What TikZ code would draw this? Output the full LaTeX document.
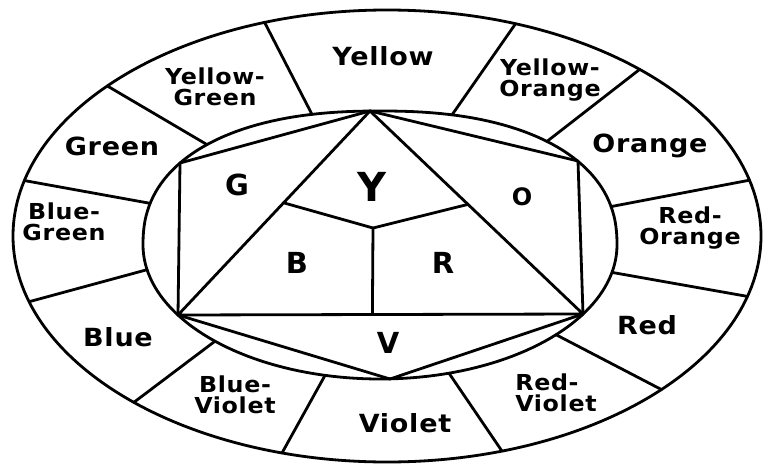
\documentclass[tikz,border=0pt]{standalone}
\usepackage{fontspec}
\newfontfamily\handfont[FakeStretch=1.08,LetterSpace=3]{DejaVu Sans}
\newfontfamily\letterfont{DejaVu Sans}
\usetikzlibrary{calc}
\begin{document}
\begin{tikzpicture}[x=1pt,y=-1pt,
  lin/.style={line width=2.8pt, line join=round, line cap=round},
  lab/.style={font=\handfont\bfseries\fontsize{25}{25}\selectfont, inner sep=0pt, anchor=base},
  labtwo/.style={font=\handfont\bfseries\fontsize{22}{21}\selectfont, align=center, inner sep=0pt},
  big/.style={font=\letterfont\bfseries\fontsize{29}{29}\selectfont, inner sep=0pt}]
\fill[white] (0,0) rectangle (768,463);
\useasboundingbox (0,0) rectangle (768,463);

% inner boundary points (on the inner oval)
\coordinate (top) at (370,111);
\coordinate (i1) at (312,114.4);
\coordinate (i2) at (207,144.6);
\coordinate (hl) at (180,163);
\coordinate (i3) at (150,203.3);
\coordinate (i4) at (147,269.7);
\coordinate (bl) at (178,315);
\coordinate (i5) at (215,341.2);
\coordinate (i6) at (325,375.4);
\coordinate (bv) at (390,379);
\coordinate (i7) at (449,373.2);
\coordinate (i8) at (556,334.7);
\coordinate (br) at (583,314);
\coordinate (i9) at (612,272.4);
\coordinate (i10) at (611,206.6);
\coordinate (hr) at (578,161);
\coordinate (i11) at (547,141.4);
\coordinate (i12) at (452,114.9);

% outer ellipse points
\begin{scope}[shift={(387,236)}]
\coordinate (o1) at (250.9:374 and 226);
\coordinate (o2) at (221.6:374 and 226);
\coordinate (o3) at (194.2:374 and 226);
\coordinate (o4) at (163.1:374 and 226);
\coordinate (o5) at (132.6:374 and 226);
\coordinate (o6) at (106.3:374 and 226);
\coordinate (o7) at (72.1:374 and 226);
\coordinate (o8) at (42.8:374 and 226);
\coordinate (o9) at (15.5:374 and 226);
\coordinate (o10) at (345.7:374 and 226);
\coordinate (o11) at (312.5:374 and 226);
\coordinate (o12) at (290.1:374 and 226);
\end{scope}

% outer ring
\draw[lin] (387,236) ellipse [x radius=374pt, y radius=226pt];
% inner oval: upper half a superellipse, lower half an ellipse
\draw[lin] plot[domain=180:360, samples=91, variable=\t]
   ({380+237*cos(\t)*pow(abs(cos(\t))+0.00001,-0.13)}, {245-134*pow(abs(sin(\t))+0.00001,0.87)})
   -- plot[domain=0:180, samples=91, variable=\t]
   ({380+237*cos(\t)}, {245+134*sin(\t)}) -- cycle;

% dividers
\foreach \k in {1,...,12} \draw[lin] (i\k) -- (o\k);

% hexagon and triangle
\draw[lin] (top) -- (hl) -- (bl) -- (bv) -- (br) -- (hr) -- cycle;
\draw[lin] (top) -- (bl) -- (br) -- cycle;
\coordinate (cn) at (373,228);
\coordinate (tl) at ($(top)!0.45!(bl)$);
\coordinate (tr) at ($(top)!0.46!(br)$);
\coordinate (bm) at ($(bl)!0.48!(br)$);
\draw[lin] (tl) -- (cn) -- (tr);
\draw[lin] (cn) -- (bm);

% big letters
\node[big] (G) at (237,185) {G};
\node[big, font=\letterfont\bfseries\fontsize{40}{40}\selectfont] (Y) at (372,187) {Y};
\node[big, font=\letterfont\bfseries\fontsize{24}{24}\selectfont] (O) at (522,197) {O};
\node[big] (B) at (297,263) {B};
\node[big] (R) at (443,263) {R};
\node[big] (V) at (388,343) {V};

% ring labels
\node[lab] (yellow) at (383,65) {Yellow};
\node[lab] (green) at (112,155) {Green};
\node[lab] (orange) at (650,152) {Orange};
\node[lab] (blue) at (118,346) {Blue};
\node[lab] (red) at (647,334) {Red};
\node[lab] (violet) at (405,432) {Violet};
\node[labtwo] (yg) at (215,87) {Yellow-\\Green};
\node[labtwo] (yo) at (550,80) {Yellow-\\Orange};
\node[labtwo] (bg) at (64,222) {Blue-\\Green};
\node[labtwo] (ro) at (690,228) {Red-\\Orange};
\node[labtwo] (bvl) at (235,395) {Blue-\\Violet};
\node[labtwo, align=left] (rvl) at (556,393) {Red-\\Violet};
\end{tikzpicture}
\end{document}
